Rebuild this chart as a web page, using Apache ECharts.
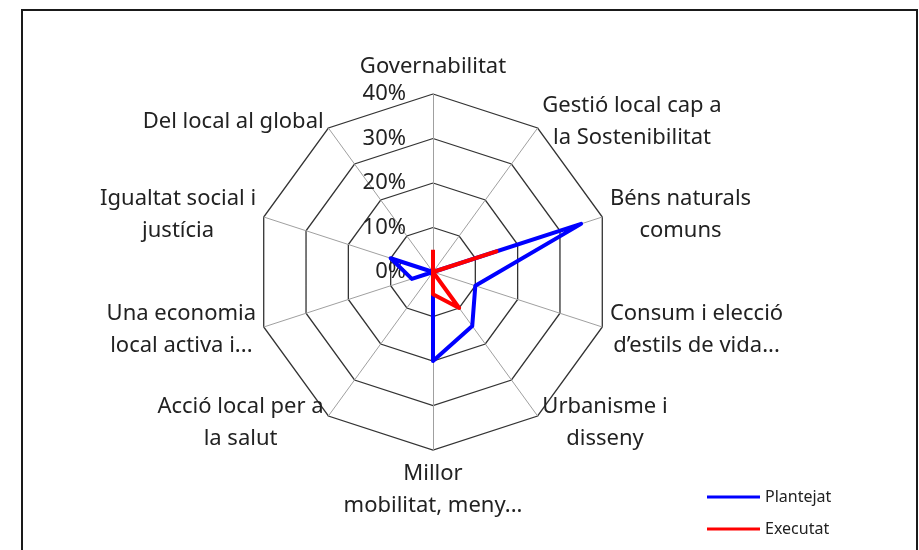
<!DOCTYPE html>
<html>
<head>
<meta charset="utf-8">
<script src="https://cdn.jsdelivr.net/npm/echarts@6/dist/echarts.min.js"></script>
<style>
html,body{margin:0;padding:0;background:#fff;}
#chart{width:919px;height:550px;}
</style>
</head>
<body>
<div id="chart"></div>
<script>
// Categories in clockwise order starting from the top
const categories = [
  'Governabilitat',
  'Gestió local cap a\nla Sostenibilitat',
  'Béns naturals\ncomuns',
  'Consum i elecció\nd’estils de vida...',
  'Urbanisme i\ndisseny',
  'Millor\nmobilitat, meny...',
  'Acció local per a\nla salut',
  'Una economia\nlocal activa i...',
  'Igualtat social i\njustícia',
  'Del local al global'
];
// Values in percent, same clockwise order
const plantejat = [0, 0, 35, 10, 15, 20, 0, 5, 10, 0];
const executat  = [5, 0, 15, 0, 10, 5, 0, 0, 0, 0];
const seriesNames = ['Plantejat', 'Executat'];
const axisMax = 40;
const axisTicks = ['0%', '10%', '20%', '30%', '40%'];

// ECharts lays indicators out counter-clockwise; reorder to get clockwise
function toCCW(arr) { return [arr[0]].concat(arr.slice(1).reverse()); }

const FONT = 'Noto Sans';
const indicators = toCCW(categories).map((name, i) => {
  const ind = { name: name, min: 0, max: axisMax };
  if (i === 0) ind.axisLabel = { show: true };
  return ind;
});

const chart = echarts.init(document.getElementById('chart'));
chart.setOption({
  animation: false,
  backgroundColor: '#fff',
  graphic: [{
    type: 'rect',
    shape: { x: 22, y: 10, width: 895, height: 560 },
    style: { fill: 'none', stroke: '#1a1a1a', lineWidth: 2 },
    z: 100
  }],
  legend: {
    orient: 'vertical',
    left: 702,
    top: 483,
    icon: 'rect',
    itemWidth: 53,
    itemHeight: 3,
    itemGap: 14,
    selectedMode: false,
    textStyle: { fontFamily: FONT, fontSize: 16, color: '#222', lineHeight: 18, padding: [0, 0, 0, 0] },
    data: seriesNames
  },
  radar: {
    center: [433, 272],
    radius: 178,
    shape: 'polygon',
    splitNumber: 4,
    startAngle: 90,
    axisNameGap: 8,
    axisName: {
      color: '#222',
      fontFamily: FONT,
      fontSize: 22,
      lineHeight: 32,
      formatter: function (name) {
        return name.split('\n').map(l => '{c|' + l + '}').join('\n');
      },
      rich: {
        c: { align: 'center', fontFamily: FONT, fontSize: 22, lineHeight: 32, color: '#222' }
      }
    },
    axisLine: { lineStyle: { color: '#a0a0a0', width: 1 } },
    splitLine: { lineStyle: { color: '#333', width: 1.3 } },
    splitArea: { show: false },
    axisTick: { show: false },
    axisLabel: {
      show: false,
      margin: 27,
      fontFamily: FONT,
      fontSize: 22,
      color: '#222',
      formatter: function (v) { return axisTicks[Math.round(v / 10)]; }
    },
    indicator: indicators
  },
  series: [{
    type: 'radar',
    symbol: 'none',
    data: [
      { name: seriesNames[0], value: toCCW(plantejat), lineStyle: { color: '#0000ff', width: 4 }, itemStyle: { color: '#0000ff' } },
      { name: seriesNames[1], value: toCCW(executat), lineStyle: { color: '#ff0000', width: 4 }, itemStyle: { color: '#ff0000' } }
    ]
  }]
});
</script>
</body>
</html>
